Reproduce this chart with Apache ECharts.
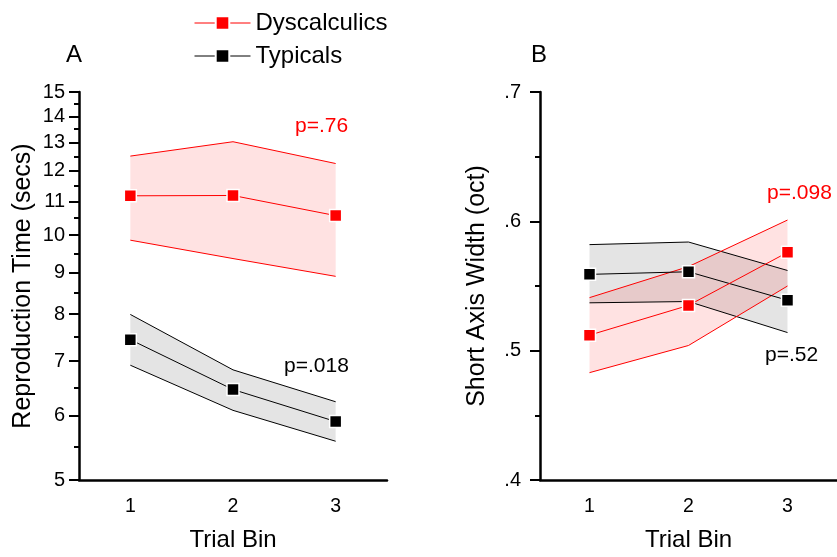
<!DOCTYPE html>
<html><head><meta charset="utf-8">
<script src="https://cdn.jsdelivr.net/npm/echarts@6/dist/echarts.min.js"></script>
<style>html,body{margin:0;padding:0;background:#fff}#c{width:837px;height:557px}</style>
</head><body><div id="c"></div>
<script>
// ---- data ----
const trialBins = ['1', '2', '3'];
// Panel A: reproduction time (secs)
const dysTimeMean  = [11.18, 11.19, 10.57];
const dysTimeUpper = [12.51, 13.03, 12.25];
const dysTimeLower = [9.86, 9.36, 8.90];
const typTimeMean  = [7.44, 6.46, 5.90];
const typTimeUpper = [7.99, 6.83, 6.24];
const typTimeLower = [6.92, 6.09, 5.58];
// Panel B: short axis width (oct)
const dysWidthMean  = [0.512, 0.535, 0.576];
const dysWidthUpper = [0.541, 0.565, 0.601];
const dysWidthLower = [0.483, 0.504, 0.550];
const typWidthMean  = [0.559, 0.561, 0.539];
const typWidthUpper = [0.582, 0.584, 0.562];
const typWidthLower = [0.537, 0.538, 0.514];
// tick labels
const yTicksA = [5, 6, 7, 8, 9, 10, 11, 12, 13, 14, 15];
const yMinorTicksA = [5.5, 6.5, 7.5, 8.5, 9.5, 10.5, 11.5, 12.5, 13.5, 14.5];
const yTicksB = [0.4, 0.5, 0.6, 0.7];
const yMinorTicksB = [0.45, 0.55, 0.65];

const FONT = 'Liberation Sans, Arial, sans-serif';
const RED = '#ff0000', BLACK = '#000000';
const diff = (u, l) => u.map((v, i) => v - l[i]);
const TICK = { width: 2, color: '#000' };

function xAxes(gi) {
  return [
    { type: 'category', gridIndex: gi, data: trialBins, boundaryGap: true, position: 'bottom',
      axisLine: { lineStyle: { color: '#000', width: 2.5 } },
      axisTick: { alignWithLabel: true, length: 10, lineStyle: TICK },
      axisLabel: { margin: 17, fontSize: 19.5, color: '#000', fontFamily: FONT },
      splitLine: { show: false },
      name: 'Trial Bin', nameLocation: 'middle', nameGap: 48,
      nameTextStyle: { fontSize: 24, color: '#000', fontFamily: FONT } },
    { type: 'category', gridIndex: gi, data: trialBins, boundaryGap: true, position: 'bottom',
      axisLine: { show: false },
      axisTick: { alignWithLabel: false, length: 5, lineStyle: TICK },
      axisLabel: { show: false }, splitLine: { show: false } }
  ];
}

const option = {
  animation: false,
  backgroundColor: '#fff',
  legend: {
    data: ['Dyscalculics', 'Typicals'],
    orient: 'vertical', left: 189, top: 6, itemGap: 9,
    itemWidth: 56, itemHeight: 17,
    lineStyle: { width: 1 },
    textStyle: { fontSize: 24, color: '#000', fontFamily: FONT }
  },
  grid: [
    { left: 79, top: 92, width: 308, height: 390 },
    { left: 540, top: 92, width: 307, height: 390 }
  ],
  xAxis: [...xAxes(0), ...xAxes(1)],
  yAxis: [
    { type: 'log', gridIndex: 0, min: 5, max: 15, logBase: 10, position: 'left',
      axisLine: { show: true, lineStyle: { color: '#000', width: 2.5 } },
      axisTick: { show: true, customValues: yTicksA, length: 10, lineStyle: TICK },
      axisLabel: { customValues: yTicksA, margin: 14, fontSize: 20, color: '#000', fontFamily: FONT },
      splitLine: { show: false }, minorTick: { show: false },
      name: 'Reproduction Time (secs)', nameLocation: 'middle', nameGap: 43,
      nameTextStyle: { fontSize: 25, color: '#000', fontFamily: FONT } },
    { type: 'log', gridIndex: 0, min: 5, max: 15, logBase: 10, position: 'left',
      axisLine: { show: false },
      axisTick: { show: true, customValues: yMinorTicksA, length: 5, lineStyle: TICK },
      axisLabel: { show: false }, splitLine: { show: false } },
    { type: 'value', gridIndex: 1, min: 0.4, max: 0.7, position: 'left',
      axisLine: { show: true, lineStyle: { color: '#000', width: 2.5 } },
      axisTick: { show: true, customValues: yTicksB, length: 10, lineStyle: TICK },
      axisLabel: { customValues: yTicksB, margin: 19, fontSize: 20, color: '#000', fontFamily: FONT,
        formatter: v => (Math.round(v * 10) / 10).toString().replace(/^0/, '') },
      splitLine: { show: false },
      name: 'Short Axis Width (oct)', nameLocation: 'middle', nameGap: 50,
      nameTextStyle: { fontSize: 25, color: '#000', fontFamily: FONT } },
    { type: 'value', gridIndex: 1, min: 0.4, max: 0.7, position: 'left',
      axisLine: { show: false },
      axisTick: { show: true, customValues: yMinorTicksB, length: 5, lineStyle: TICK },
      axisLabel: { show: false }, splitLine: { show: false } }
  ],
  graphic: [
    { type: 'text', left: 66, top: 43, style: { text: 'A', fontSize: 24, fill: '#000', fontFamily: FONT } },
    { type: 'text', left: 531, top: 43, style: { text: 'B', fontSize: 24, fill: '#000', fontFamily: FONT } },
    { type: 'text', left: 295, top: 116, style: { text: 'p=.76', fontSize: 21, fill: RED, fontFamily: FONT } },
    { type: 'text', left: 284, top: 356, style: { text: 'p=.018', fontSize: 21, fill: '#000', fontFamily: FONT } },
    { type: 'text', left: 767, top: 183, style: { text: 'p=.098', fontSize: 21, fill: RED, fontFamily: FONT } },
    { type: 'text', left: 765, top: 345, style: { text: 'p=.52', fontSize: 21, fill: '#000', fontFamily: FONT } }
  ],
  series: []
};

function band(xi, yi, upper, lower, lineColor, fill, stackId) {
  return [
    { type: 'line', xAxisIndex: xi, yAxisIndex: yi, stack: stackId, data: lower,
      showSymbol: false, symbol: 'none', lineStyle: { color: lineColor, width: 1 }, z: 1, silent: true },
    { type: 'line', xAxisIndex: xi, yAxisIndex: yi, stack: stackId, data: diff(upper, lower),
      showSymbol: false, symbol: 'none', lineStyle: { color: lineColor, width: 1 },
      areaStyle: { color: fill, opacity: 1 }, z: 1, silent: true }
  ];
}
function mean(name, xi, yi, vals, color) {
  return { name, type: 'line', xAxisIndex: xi, yAxisIndex: yi, data: vals,
    symbol: 'rect', symbolSize: 12, showSymbol: true,
    itemStyle: { color, borderColor: '#fff', borderWidth: 1.5 },
    lineStyle: { color, width: 1 }, z: 3 };
}
const GREY = 'rgba(0,0,0,0.105)', PINK = 'rgba(255,0,0,0.115)';
option.series.push(
  ...band(0, 0, typTimeUpper, typTimeLower, BLACK, GREY, 'tA'),
  ...band(0, 0, dysTimeUpper, dysTimeLower, RED, PINK, 'dA'),
  mean('Dyscalculics', 0, 0, dysTimeMean, RED),
  mean('Typicals', 0, 0, typTimeMean, BLACK),
  ...band(2, 2, typWidthUpper, typWidthLower, BLACK, GREY, 'tB'),
  ...band(2, 2, dysWidthUpper, dysWidthLower, RED, PINK, 'dB'),
  mean('Typicals', 2, 2, typWidthMean, BLACK),
  mean('Dyscalculics', 2, 2, dysWidthMean, RED)
);

const chart = echarts.init(document.getElementById('c'), null, { renderer: 'canvas' });
chart.setOption(option);
</script>
</body></html>
